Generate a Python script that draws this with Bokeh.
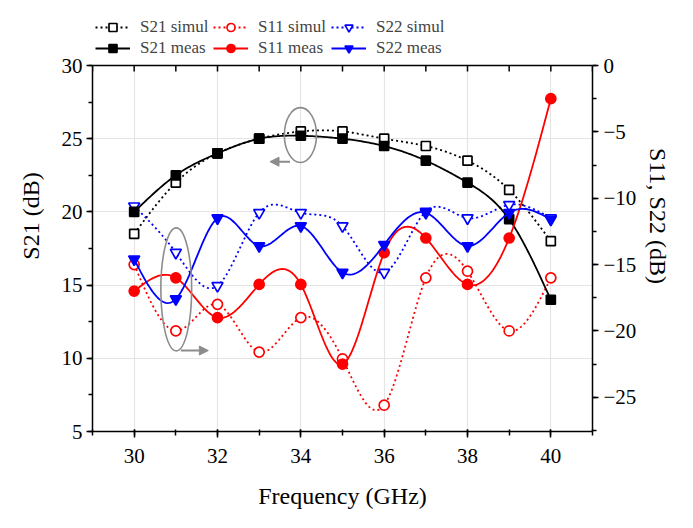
import numpy as np
from bokeh.plotting import figure
from bokeh.models import (Range1d, LinearAxis, SingleIntervalTicker, Legend,
                          LegendItem, Arrow, NormalHead, BoxAnnotation, Span)
from bokeh.embed import file_html
from bokeh.resources import INLINE

freq = [30, 31, 32, 33, 34, 35, 36, 37, 38, 39, 40]
s21_simul = [18.5, 22.0, 24.0, 25.0, 25.5, 25.5, 25.0, 24.5, 23.5, 21.5, 18.0]
s21_meas = [20.0, 22.5, 24.0, 25.0, 25.2, 25.0, 24.5, 23.5, 22.0, 19.5, 14.0]
s11_simul = [-15.0, -20.0, -18.0, -21.6, -19.0, -22.1, -25.6, -16.0, -15.5, -20.0, -16.0]
s11_meas = [-17.0, -16.0, -19.0, -16.5, -16.5, -22.5, -14.1, -13.0, -16.5, -13.0, -2.5]
s22_simul = [-10.6, -14.1, -16.6, -11.1, -11.1, -12.1, -15.6, -11.0, -11.5, -10.5, -11.5]
s22_meas = [-14.6, -17.6, -11.5, -13.6, -12.1, -15.6, -13.5, -11.1, -13.6, -11.1, -11.6]
top_ticks = list(range(29, 42))

# axis extents (value ranges shown by the axes)
X0, X1 = 29, 41
L0, L1 = 5, 30
R0, R1 = -27.58, 0


def nat_spline(x, y, num=25):
    x = np.asarray(x, float)
    y = np.asarray(y, float)
    n = len(x)
    h = np.diff(x)
    A = np.zeros((n, n))
    b = np.zeros(n)
    A[0, 0] = 1
    A[-1, -1] = 1
    for i in range(1, n - 1):
        A[i, i - 1] = h[i - 1]
        A[i, i] = 2 * (h[i - 1] + h[i])
        A[i, i + 1] = h[i]
        b[i] = 6 * ((y[i + 1] - y[i]) / h[i] - (y[i] - y[i - 1]) / h[i - 1])
    M = np.linalg.solve(A, b)
    xs, ys = [], []
    for i in range(n - 1):
        t = np.linspace(x[i], x[i + 1], num, endpoint=(i == n - 2))
        a = x[i + 1] - t
        c = t - x[i]
        s = (M[i] * a ** 3 / (6 * h[i]) + M[i + 1] * c ** 3 / (6 * h[i])
             + (y[i] / h[i] - M[i] * h[i] / 6) * a
             + (y[i + 1] / h[i] - M[i + 1] * h[i] / 6) * c)
        xs.extend(t.tolist())
        ys.extend(s.tolist())
    return xs, ys


FONT = "Liberation Serif"
GRAY = "#8c8c8c"

# frame spans the plot box (366 px) plus a 65 px strip above it for the legend
BOX_H, TOP_H = 366.0, 65.0
l_end = L1 + TOP_H * (L1 - L0) / BOX_H
r_end = R1 + TOP_H * (R1 - R0) / BOX_H

p = figure(width=693, height=528, output_backend="svg", toolbar_location=None,
           x_range=Range1d(X0, X1), y_range=Range1d(L0, l_end),
           min_border_left=92, min_border_right=101, min_border_top=0,
           min_border_bottom=97, x_axis_location=None, y_axis_location=None)
p.extra_y_ranges = {"r": Range1d(R0, r_end)}
p.outline_line_color = None
p.background_fill_color = "white"


def style_axis(ax, size="21px"):
    ax.axis_line_width = 1.5
    ax.axis_line_color = "black"
    ax.major_tick_line_width = 1.5
    ax.minor_tick_line_width = 1.5
    ax.major_tick_line_color = "black"
    ax.minor_tick_line_color = "black"
    ax.major_label_text_font = FONT
    ax.major_label_text_font_size = size
    ax.major_label_text_color = "black"
    ax.axis_label_text_font = FONT
    ax.axis_label_text_font_size = "24px"
    ax.axis_label_text_font_style = "normal"
    ax.axis_label_text_color = "black"


xax = LinearAxis(ticker=SingleIntervalTicker(interval=2, num_minor_ticks=2),
                 axis_label="Frequency (GHz)")
style_axis(xax)
xax.major_tick_out = 6
xax.major_tick_in = 2
xax.minor_tick_out = 4
xax.minor_tick_in = 2
xax.major_label_standoff = 11
xax.axis_label_standoff = 17
p.add_layout(xax, "below")

yax = LinearAxis(ticker=SingleIntervalTicker(interval=5, num_minor_ticks=2),
                 axis_label="S21 (dB)", bounds=(L0, L1))
style_axis(yax)
yax.major_tick_out = 6
yax.major_tick_in = 0
yax.minor_tick_out = 4
yax.minor_tick_in = 0
yax.major_label_standoff = 4
yax.axis_label_standoff = 15
p.add_layout(yax, "left")

rax = LinearAxis(y_range_name="r",
                 ticker=SingleIntervalTicker(interval=5, num_minor_ticks=2),
                 axis_label="S11, S22 (dB)", bounds=(R0, R1))
style_axis(rax)
rax.major_tick_out = 6
rax.major_tick_in = 0
rax.minor_tick_out = 4
rax.minor_tick_in = 0
rax.major_label_standoff = 5
rax.axis_label_standoff = 6
p.add_layout(rax, "right")

p.xgrid.ticker = xax.ticker
p.ygrid.ticker = yax.ticker
p.xgrid.grid_line_color = "#e4e4e4"
p.ygrid.grid_line_color = "#e4e4e4"
p.xgrid.grid_line_width = 1.2
p.ygrid.grid_line_width = 1.2

# blank strip above the plot box (hides grid lines there)
p.add_layout(BoxAnnotation(bottom=L1, fill_color="white", fill_alpha=1,
                           line_alpha=0, level="underlay"))
# top border of the plot box with inward ticks
p.add_layout(Span(location=L1, dimension="width", line_color="black",
                  line_width=1.5))
tick_len = 6 * (L1 - L0) / BOX_H
p.segment(x0=top_ticks, y0=[L1] * len(top_ticks), x1=top_ticks,
          y1=[L1 - tick_len] * len(top_ticks), line_color="black",
          line_width=1.5)

series = [
    ("S21 simul", s21_simul, "black", "square", True, "default"),
    ("S11 simul", s11_simul, "red", "circle", True, "r"),
    ("S22 simul", s22_simul, "blue", "inverted_triangle", True, "r"),
    ("S21 meas", s21_meas, "black", "square", False, "default"),
    ("S11 meas", s11_meas, "red", "circle", False, "r"),
    ("S22 meas", s22_meas, "blue", "inverted_triangle", False, "r"),
]

items = []
for name, vals, col, mk, is_sim, rng in series:
    sx, sy = nat_spline(freq, vals)
    dash = "2 3" if is_sim else "solid"
    ln = p.line(sx, sy, line_color=col, line_width=1.8, line_dash=dash,
                y_range_name=rng)
    size = {"square": 9, "circle": 10, "inverted_triangle": 11}[mk]
    sc = p.scatter(freq, vals, marker=mk, size=size, line_color=col,
                   fill_color=("white" if is_sim else col), line_width=1.7,
                   y_range_name=rng)
    items.append(LegendItem(label=name, renderers=[ln, sc]))

# gray annotation ellipses and arrows
p.ellipse(x=[33.99], y=[25.25], width=0.77, height=3.75, fill_alpha=0,
          line_color=GRAY, line_width=1.6)
p.ellipse(x=[31.01], y=[14.71], width=0.74, height=8.4, fill_alpha=0,
          line_color=GRAY, line_width=1.6)
p.add_layout(Arrow(end=NormalHead(size=9, fill_color=GRAY, line_color=GRAY),
                   x_start=33.74, y_start=23.43, x_end=33.26, y_end=23.43,
                   line_color=GRAY, line_width=2))
p.add_layout(Arrow(end=NormalHead(size=9, fill_color=GRAY, line_color=GRAY),
                   x_start=31.12, y_start=10.53, x_end=31.78, y_end=10.53,
                   line_color=GRAY, line_width=2))


def make_legend(its, loc):
    return Legend(items=its, orientation="horizontal", location=loc,
                  margin=0, padding=0, spacing=0,
                  glyph_width=35, glyph_height=20, label_height=20,
                  label_width=73, label_standoff=10,
                  label_text_font=FONT, label_text_font_size="17px",
                  border_line_alpha=0, background_fill_alpha=0)


p.add_layout(make_legend(items[:3], (3, 394)))
p.add_layout(make_legend(items[3:], (3, 373)))

open("out.html", "w").write(file_html(p, INLINE))
